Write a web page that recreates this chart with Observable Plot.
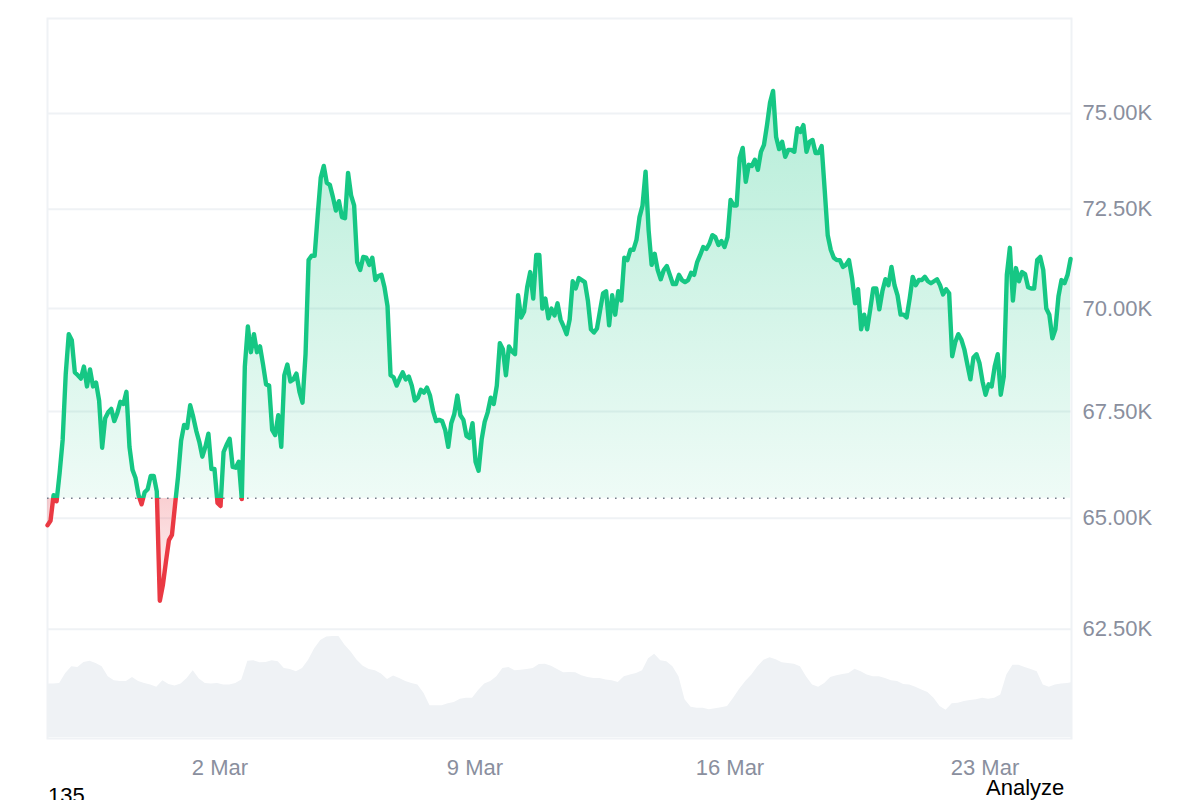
<!DOCTYPE html>
<html>
<head>
<meta charset="utf-8">
<script src="https://cdn.jsdelivr.net/npm/d3@7"></script>
<script src="https://cdn.jsdelivr.net/npm/@observablehq/plot@0.6"></script>
<style>
html,body{margin:0;padding:0;background:#fff;width:1200px;height:800px;overflow:hidden;font-family:"Liberation Sans",Arial,sans-serif}
#wrap{position:relative;width:1200px;height:800px}
#wrap svg{position:absolute;left:0;top:0;background:transparent}
.lbl{position:absolute;font-size:22px;line-height:26px;color:#000}
</style>
</head>
<body>
<div id="wrap"></div>
<script>
// Two-hourly price, thousands of USD
const prices = [
64.84,64.94,65.53,65.39,66.05,66.83,68.39,69.37,69.22,68.44,
68.37,68.29,68.58,68.10,68.51,68.10,68.19,67.76,66.64,67.34,
67.48,67.56,67.27,67.46,67.73,67.68,67.97,66.66,66.12,65.93,
65.53,65.32,65.60,65.67,65.98,65.98,65.62,63.13,63.48,64.00,
64.50,64.62,65.30,65.96,66.80,67.18,67.11,67.65,67.37,67.04,
66.78,66.43,66.66,66.97,66.14,66.14,65.35,65.28,66.54,66.71,
66.85,66.19,66.17,66.31,65.44,68.58,69.56,68.93,69.37,68.93,
69.07,68.63,68.15,68.12,67.06,66.94,67.41,66.66,68.37,68.63,
68.22,68.27,68.41,67.97,67.71,68.88,71.21,71.32,71.32,72.35,
73.31,73.62,73.18,73.13,72.82,72.47,72.71,72.30,72.27,73.44,
72.86,72.60,71.16,70.96,71.29,71.27,71.09,71.27,70.71,70.81,
70.84,70.53,70.06,68.37,68.32,68.12,68.29,68.44,68.27,68.34,
68.12,67.76,67.83,68.02,67.95,68.07,67.88,67.51,67.27,67.30,
67.27,67.06,66.66,67.22,67.44,67.88,67.41,67.30,66.92,66.87,
67.22,66.31,66.10,66.83,67.25,67.48,67.83,67.68,68.12,69.15,
69.00,68.37,69.07,68.95,68.88,70.33,69.78,69.93,70.53,70.91,
70.25,71.34,71.34,70.00,70.25,69.76,70.00,69.83,70.13,69.73,
69.56,69.37,69.73,70.68,70.50,70.76,70.71,70.66,70.20,69.49,
69.41,69.51,69.95,70.38,70.43,69.59,70.33,69.85,70.43,70.20,
71.27,71.21,71.47,71.47,71.72,72.30,72.60,73.47,71.97,71.09,
71.37,70.96,70.73,70.96,71.06,70.84,70.61,70.61,70.84,70.71,
70.66,70.71,70.89,70.84,71.16,71.34,71.54,71.49,71.62,71.84,
71.79,71.59,71.69,71.54,71.79,72.74,72.60,72.60,73.83,74.09,
73.21,73.65,73.62,73.78,73.52,73.99,74.17,74.69,75.29,75.60,
74.38,74.06,74.25,73.86,74.04,74.04,73.99,74.61,74.51,74.69,
73.99,74.25,74.30,73.96,73.96,74.14,73.00,71.84,71.47,71.27,
71.21,71.21,71.04,71.09,71.21,70.76,70.13,70.48,69.49,69.85,
69.49,69.98,70.50,70.50,69.98,70.43,70.73,70.58,71.04,70.58,
70.33,69.85,69.85,69.78,70.25,70.79,70.58,70.71,70.71,70.79,
70.68,70.63,70.68,70.73,70.58,70.35,70.48,70.38,68.83,69.17,
69.37,69.24,69.00,68.63,68.27,68.80,68.88,68.66,68.22,67.90,
68.15,68.10,68.58,68.88,67.90,68.34,70.84,71.52,70.20,71.01,
70.68,70.91,70.86,70.53,70.50,70.50,71.21,71.29,70.96,70.00,
69.85,69.27,69.49,70.30,70.71,70.63,70.84,71.24
];
// Four-hourly traded volume, billions (estimated from the band's height)
const volumes = [
27,27,27.3,32.3,35.7,35.3,37.8,38.5,37.3,35.7,30.7,28.7,28.2,28.2,30.3,28.2,27.3,26.5,25.3,28.7,
26.8,26,27,29.8,33.7,29.5,27.3,27,27.3,26.5,26.5,27.3,29,38.5,38.7,37.7,37.8,38.7,38.2,34.8,
34.3,33.2,34.8,39,44.8,49,50.7,51,51,46.5,43.2,39,36,34.3,33.7,32,29.3,31,29.8,28.2,
27.3,26.5,22.3,16,16,16,17,17.7,19.3,19.8,19.8,23.7,27,28.2,30.7,34.8,35.3,33.7,34,34.3,
34.8,36.8,37,36,34.3,32.7,32.8,32.7,31.2,30.3,29.8,29.8,29,28.7,27.7,30.7,31.5,32.3,33.7,39.8,
42,38.7,38.2,35.7,30.7,19,15.3,14.7,14.7,14,14.5,15,15.7,19.8,24.3,28.2,31.5,35.7,39,40.3,
39.3,37.7,37.3,37,35.7,30.7,26.5,25.3,27.3,30.3,31.2,31.8,32.3,34.5,33.2,31.5,30.7,30.7,29.8,28.7,
28.2,26.8,26.5,25.3,24,22.7,19.8,15.7,13.7,17,17.3,18.2,18.7,19,19.8,19.3,19.8,21.5,31.5,36.5,
36.5,35.3,34.3,33.2,26.5,25.3,26.5,27,27.3,27.8
];
const priceTicks = [62.5,65,67.5,70,72.5,75];
const dateTicks = ["2026-03-02","2026-03-09","2026-03-16","2026-03-23"];
const baseline = 65.46;
const startTime = "2026-02-25T06:24:00Z";
const spanHours = 674.6;
const priceStepHours = 2;
const volumeStepHours = 4;

const HOUR = 3600e3;
const t0 = new Date(startTime).getTime();
const xDomain = [new Date(t0), new Date(t0 + spanHours * HOUR)];
const priceRows = prices.map((p, i) => ({t: new Date(t0 + i * priceStepHours * HOUR), p}));
const volumeRows = volumes.map((v, i) => ({t: new Date(t0 + i * volumeStepHours * HOUR), v}));
const tickDates = dateTicks.map(d => new Date(d + "T00:00:00Z"));

const GREEN = "#16c784", RED = "#ea3943", GRID = "#eff2f5", MUTED = "#8a8f9e";
const margins = {marginLeft: 47, marginRight: 129, marginBottom: 62};
const font = {fontFamily: '"Liberation Sans",Arial,sans-serif', fontSize: "22px", background: "transparent", overflow: "visible"};

function gradients(index, scales, values, dim) {
  const H = dim.height, yb = scales.y(baseline), yTop = scales.y(75.8), yLow = scales.y(63);
  const svg = d3.create("svg:g");
  const defs = svg.append("defs");
  const line = defs.append("linearGradient").attr("id", "priceStroke")
    .attr("gradientUnits", "userSpaceOnUse").attr("x1", 0).attr("x2", 0).attr("y1", 0).attr("y2", H);
  [[yb / H, GREEN], [yb / H, RED]].forEach(([o, c]) => line.append("stop").attr("offset", o).attr("stop-color", c));
  const fill = defs.append("linearGradient").attr("id", "priceFill")
    .attr("gradientUnits", "userSpaceOnUse").attr("x1", 0).attr("x2", 0).attr("y1", 0).attr("y2", H);
  [[yTop / H, GREEN, .32], [yb / H, GREEN, .07], [yb / H, RED, .24], [yLow / H, RED, .03]]
    .forEach(([o, c, a]) => fill.append("stop").attr("offset", o).attr("stop-color", c).attr("stop-opacity", a));
  return svg.node();
}

const main = Plot.plot({
  width: 1200, height: 800, ...margins, marginTop: 18, style: font,
  x: {type: "utc", domain: xDomain},
  y: {type: "log", domain: [60.13, 77.56]},
  marks: [
    gradients,
    Plot.ruleY(priceTicks, {stroke: GRID, strokeWidth: 2}),
    Plot.frame({stroke: GRID, strokeWidth: 2}),
    Plot.areaY(priceRows, {x: "t", y1: () => baseline, y2: "p", fill: "url(#priceFill)", curve: "linear"}),
    Plot.ruleY([baseline], {stroke: "#777e8c", strokeWidth: 1.6, strokeDasharray: "1.6 6.4"}),
    Plot.line(priceRows, {x: "t", y: "p", stroke: "url(#priceStroke)", strokeWidth: 4.4, strokeLinejoin: "round", strokeLinecap: "round"}),
    Plot.axisY({anchor: "right", ticks: priceTicks, tickSize: 0, tickPadding: 11, label: null, fill: MUTED,
      tickFormat: d => d.toFixed(2) + "K"}),
    Plot.axisX({ticks: tickDates, tickSize: 0, tickPadding: 21, label: null, fill: MUTED,
      tickFormat: d3.utcFormat("%-d Mar")})
  ]
});

const vol = Plot.plot({
  width: 1200, height: 799, ...margins, marginTop: 630, style: font,
  x: {type: "utc", domain: xDomain, axis: null},
  y: {domain: [0, 54], axis: null},
  marks: [
    Plot.areaY(volumeRows, {x: "t", y: "v", fill: GRID, clip: true})
  ]
});

const wrap = document.getElementById("wrap");
wrap.append(main, vol);
for (const [text, left, top] of [["135", 48, 783], ["Analyze", 986, 775]]) {
  const el = document.createElement("div");
  el.className = "lbl"; el.textContent = text;
  el.style.left = left + "px"; el.style.top = top + "px";
  wrap.append(el);
}
</script>
</body>
</html>
